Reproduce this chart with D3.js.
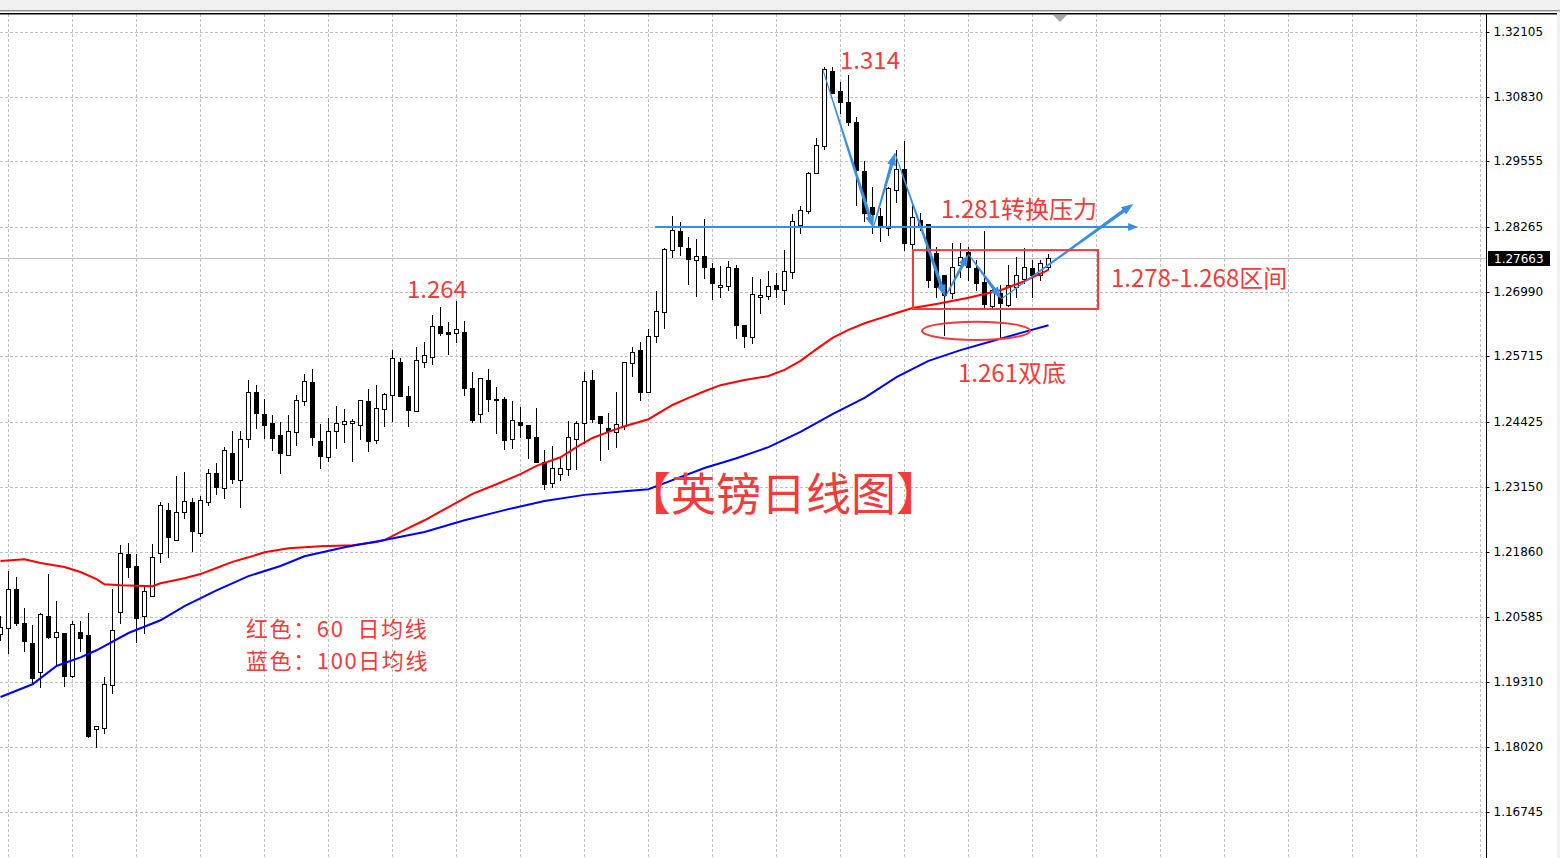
<!DOCTYPE html>
<html><head><meta charset="utf-8">
<script src="https://cdn.jsdelivr.net/npm/d3@7/dist/d3.min.js"></script>
<style>html,body{margin:0;padding:0;background:#fff;overflow:hidden}</style>
</head><body>
<svg id="c" width="1560" height="858"></svg>
<script>
// ---- data (GBP/USD daily) ----
const opens = [1.2025,1.2037,1.2113,1.2046,1.2007,1.1950,1.2060,1.2019,1.2027,1.1942,1.2029,1.2023,1.1838,1.1840,1.1924,1.2068,1.2182,1.2159,1.2060,1.2100,
1.2184,1.2269,1.2210,1.2265,1.2285,1.2224,1.2285,1.2342,1.2312,1.2381,1.2328,1.2409,1.2502,1.2458,1.2440,1.2417,1.2377,1.2423,1.2484,1.2521,
1.2405,1.2373,1.2425,1.2438,1.2440,1.2436,1.2484,1.2407,1.2468,1.2496,1.2561,1.2494,1.2464,1.2561,1.2570,1.2631,1.2620,1.2618,1.2620,1.2509,
1.2458,1.2525,1.2488,1.2488,1.2409,1.2442,1.2436,1.2413,1.2364,1.2322,1.2340,1.2350,1.2409,1.2440,1.2525,1.2454,1.2431,1.2423,1.2434,1.2559,
1.2584,1.2502,1.2612,1.2659,1.2781,1.2819,1.2785,1.2761,1.2769,1.2746,1.2708,1.2710,1.2746,1.2633,1.2610,1.2689,1.2691,1.2712,1.2702,1.2738,
1.2830,1.2858,1.2933,1.2986,1.3134,1.3094,1.3073,1.3033,1.2937,1.2866,1.2848,1.2825,1.2899,1.2941,1.2793,1.2840,1.2832,1.2775,1.2732,1.2696,
1.2752,1.2777,1.2746,1.2718,1.2671,1.2696,1.2673,1.2708,1.2724,1.2746,1.2732,1.2748];
const highs = [1.2060,1.2149,1.2137,1.2076,1.2042,1.2066,1.2143,1.2090,1.2027,1.2050,1.2050,1.2066,1.1844,1.1940,1.2113,1.2200,1.2204,1.2182,1.2121,1.2202,
1.2285,1.2283,1.2336,1.2344,1.2293,1.2297,1.2350,1.2362,1.2393,1.2425,1.2425,1.2525,1.2515,1.2488,1.2456,1.2442,1.2456,1.2496,1.2537,1.2547,
1.2438,1.2450,1.2474,1.2468,1.2448,1.2486,1.2507,1.2515,1.2500,1.2584,1.2568,1.2513,1.2590,1.2600,1.2653,1.2669,1.2639,1.2681,1.2641,1.2541,
1.2529,1.2547,1.2511,1.2492,1.2484,1.2472,1.2436,1.2470,1.2387,1.2395,1.2371,1.2444,1.2444,1.2541,1.2545,1.2454,1.2460,1.2502,1.2561,1.2590,
1.2600,1.2626,1.2700,1.2785,1.2848,1.2836,1.2807,1.2803,1.2842,1.2756,1.2750,1.2760,1.2752,1.2633,1.2728,1.2724,1.2740,1.2736,1.2781,1.2852,
1.2868,1.2935,1.3002,1.3142,1.3142,1.3112,1.3126,1.3043,1.2957,1.2905,1.2864,1.2905,1.2978,1.2996,1.2876,1.2854,1.2832,1.2787,1.2732,1.2795,
1.2795,1.2787,1.2761,1.2819,1.2708,1.2712,1.2752,1.2767,1.2785,1.2761,1.2761,1.2773];
const lows = [1.2013,1.1987,1.2042,1.1991,1.1928,1.1920,1.2017,1.1964,1.1922,1.1940,1.1991,1.1822,1.1802,1.1830,1.1909,1.2046,1.2137,1.2009,1.2027,1.2100,
1.2167,1.2176,1.2210,1.2253,1.2188,1.2218,1.2279,1.2301,1.2293,1.2322,1.2275,1.2393,1.2431,1.2411,1.2387,1.2342,1.2377,1.2397,1.2476,1.2397,
1.2352,1.2366,1.2391,1.2403,1.2366,1.2409,1.2385,1.2401,1.2434,1.2444,1.2494,1.2434,1.2464,1.2551,1.2557,1.2614,1.2576,1.2600,1.2496,1.2442,
1.2442,1.2464,1.2421,1.2389,1.2391,1.2413,1.2371,1.2364,1.2310,1.2314,1.2328,1.2338,1.2350,1.2401,1.2442,1.2368,1.2389,1.2393,1.2429,1.2533,
1.2486,1.2502,1.2600,1.2628,1.2767,1.2771,1.2714,1.2691,1.2726,1.2685,1.2689,1.2702,1.2608,1.2590,1.2598,1.2657,1.2685,1.2689,1.2675,1.2726,
1.2815,1.2854,1.2933,1.2980,1.3091,1.3051,1.3027,1.2870,1.2838,1.2815,1.2799,1.2811,1.2876,1.2781,1.2773,1.2821,1.2708,1.2689,1.2614,1.2687,
1.2728,1.2722,1.2702,1.2669,1.2667,1.2610,1.2671,1.2689,1.2716,1.2689,1.2722,1.2744];
const closes = [1.2039,1.2113,1.2046,1.2011,1.1938,1.2064,1.2019,1.2029,1.1942,1.2044,1.2017,1.1824,1.1844,1.1926,1.2033,1.2184,1.2157,1.2056,1.2109,1.2176,
1.2279,1.2216,1.2265,1.2287,1.2228,1.2289,1.2342,1.2314,1.2387,1.2330,1.2409,1.2502,1.2460,1.2436,1.2411,1.2381,1.2425,1.2486,1.2523,1.2413,
1.2375,1.2425,1.2440,1.2444,1.2444,1.2486,1.2405,1.2470,1.2498,1.2568,1.2494,1.2466,1.2565,1.2574,1.2631,1.2618,1.2616,1.2626,1.2509,1.2446,
1.2529,1.2488,1.2486,1.2407,1.2446,1.2436,1.2411,1.2364,1.2320,1.2352,1.2352,1.2413,1.2440,1.2523,1.2448,1.2440,1.2425,1.2438,1.2561,1.2580,
1.2502,1.2612,1.2661,1.2783,1.2821,1.2789,1.2763,1.2769,1.2748,1.2716,1.2712,1.2748,1.2633,1.2612,1.2695,1.2693,1.2710,1.2704,1.2740,1.2838,
1.2860,1.2933,1.2988,1.3138,1.3091,1.3073,1.3033,1.2939,1.2854,1.2852,1.2827,1.2903,1.2941,1.2795,1.2846,1.2830,1.2722,1.2708,1.2693,1.2748,
1.2767,1.2748,1.2716,1.2675,1.2702,1.2677,1.2712,1.2732,1.2748,1.2732,1.2756,1.27663];

// 60-day MA (red) and 100-day MA (blue), sampled at bar indices
const ma60Idx = [0,3,5,8,10,12,13,15,19,20,23,25,27,29,31,33,36,40,44,47,48,50,53,56,59,62,65,67,70,72,74,76,78,81,84,86,88,90,93,96,98,100,102,104,106,108,110,112,114,117,121,125,128,131];
const ma60Val = [1.2169,1.2172,1.2165,1.2157,1.2147,1.2133,1.2123,1.2121,1.2119,1.2125,1.2135,1.2143,1.2155,1.2167,1.2176,1.2186,1.2194,1.2198,1.2200,1.2206,1.2210,1.2226,1.2249,1.2275,1.2301,1.2320,1.2340,1.2356,1.2373,1.2393,1.2411,1.2423,1.2434,1.2448,1.2476,1.2490,1.2503,1.2515,1.2525,1.2533,1.2545,1.2563,1.2586,1.2608,1.2624,1.2637,1.2647,1.2657,1.2667,1.2675,1.2687,1.2702,1.2720,1.2742];
const ma100Idx = [0,4,7,10,12,16,20,23,27,31,35,38,43,48,53,58,63,68,73,78,81,84,88,92,96,100,104,108,112,116,120,124,128,131];
const ma100Val = [1.1901,1.1926,1.1962,1.1979,1.1993,1.2027,1.2052,1.2080,1.2111,1.2139,1.2159,1.2178,1.2196,1.2210,1.2226,1.2249,1.2269,1.2287,1.2299,1.2306,1.2310,1.2328,1.2352,1.2371,1.2393,1.2423,1.2458,1.2490,1.2531,1.2563,1.2584,1.2602,1.2620,1.2633];

const priceTicks = [1.32105,1.30830,1.29555,1.28265,1.26990,1.25715,1.24425,1.23150,1.21860,1.20585,1.19310,1.18020,1.16745];
const currentPrice = 1.27663;

// annotation anchors: [bar index, price]
const zigzag = [[102.8,1.3136],[109.1,1.2825],[111.8,1.2972],[118.1,1.2689],[121.0,1.2773],[125.1,1.2685],[141.6,1.2872]];
const resistLine = [[81.8,1.28265],[142.2,1.28265]];
const rangeBox = [[114.06,1.2781],[137.19,1.2665]];
const bottomEllipse = {c:[121.94,1.2622], rx:6.75, ry:0.0018};
const labels = [
  {t:"1.314", p:[104.94,1.3138], s:24, ls:0},
  {t:"1.264", p:[50.81,1.2687], s:24, ls:0},
  {t:"1.281转换压力", p:[117.56,1.2844], s:24, ls:0},
  {t:"1.278-1.268区间", p:[138.81,1.2708], s:24, ls:0},
  {t:"1.261双底", p:[119.69,1.2521], s:24, ls:0},
  {t:"【英镑日线图】", p:[78.19,1.2268], s:45, ls:0},
  {t:"红色：60  日均线", p:[30.69,1.2019], s:22, ls:1.6},
  {t:"蓝色：100日均线", p:[30.69,1.1957], s:22, ls:1.6}
];

// ---- layout ----
const W = 1560, H = 858, plotTop = 14, plotRight = 1486;
const svg = d3.select("#c");
const x = d3.scaleLinear().domain([0,131]).range([0.5,1048.5]);
const y = d3.scaleLinear().domain([1.16745,1.32105]).range([812,32]);
const snap = v => Math.round(v) + 0.5;

// chrome
svg.append("rect").attr("x",0).attr("y",0).attr("width",W).attr("height",H).attr("fill","#fff");
svg.append("rect").attr("x",0).attr("y",0).attr("width",W).attr("height",10).attr("fill","#f0f0f0");
svg.append("rect").attr("x",0).attr("y",10).attr("width",W).attr("height",1).attr("fill","#8c8c8c");
svg.append("rect").attr("x",0).attr("y",11).attr("width",W).attr("height",1).attr("fill","#cfcfcf");
svg.append("rect").attr("x",1557).attr("y",12).attr("width",3).attr("height",H).attr("fill","#f0f0f0");

const grid = svg.append("g").attr("stroke","#c0c0c0").attr("stroke-width",1).attr("stroke-dasharray","3,2");
priceTicks.forEach(t => {
  grid.append("line").attr("x1",0).attr("x2",plotRight).attr("y1",snap(y(t))).attr("y2",snap(y(t)));
});
d3.range(1, 190, 8).forEach(i => {
  const xx = Math.floor(x(i)) + 0.5;
  if (xx < plotRight) grid.append("line").attr("x1",xx).attr("x2",xx).attr("y1",plotTop).attr("y2",H);
});

// current price line
svg.append("line").attr("x1",0).attr("x2",plotRight).attr("y1",snap(y(currentPrice))).attr("y2",snap(y(currentPrice)))
  .attr("stroke","#c0c0c0").attr("stroke-width",1);

// candles
const bars = opens.map((o,i)=>({i,o,h:highs[i],l:lows[i],c:closes[i]}));
const cg = svg.append("g");
bars.forEach(b => {
  const cx = Math.floor(x(b.i)) + 0.5;
  cg.append("line").attr("x1",cx).attr("x2",cx).attr("y1",Math.round(y(b.h))).attr("y2",Math.round(y(b.l))+1)
    .attr("stroke","#000").attr("stroke-width",1);
  const top = Math.round(y(Math.max(b.o,b.c))), bot = Math.round(y(Math.min(b.o,b.c)));
  const bull = b.c >= b.o;
  if (bot - top < 1) {
    cg.append("line").attr("x1",cx-2.5).attr("x2",cx+2.5).attr("y1",top+0.5).attr("y2",top+0.5).attr("stroke","#000");
  } else {
    cg.append("rect").attr("x",cx-2).attr("y",top+0.5).attr("width",4).attr("height",bot-top)
      .attr("fill",bull?"#fff":"#000").attr("stroke","#000").attr("stroke-width",1);
  }
});

// moving averages
const line = d3.line().x(d=>x(d[0])).y(d=>y(d[1]));
svg.append("path").datum(ma60Idx.map((d,k)=>[d,ma60Val[k]])).attr("d",line)
  .attr("fill","none").attr("stroke","#ff0000").attr("stroke-width",2);
svg.append("path").datum(ma100Idx.map((d,k)=>[d,ma100Val[k]])).attr("d",line)
  .attr("fill","none").attr("stroke","#0000ff").attr("stroke-width",2);

// plot frame
svg.append("rect").attr("x",0).attr("y",13).attr("width",1557).attr("height",1.5).attr("fill","#000");
svg.append("line").attr("x1",plotRight+0.5).attr("x2",plotRight+0.5).attr("y1",plotTop).attr("y2",H).attr("stroke","#000");
svg.append("path").attr("d","M1053,15 L1067,15 L1060,22 Z").attr("fill","#a8a8a8");

// axis
const axis = d3.axisRight(y).tickValues(priceTicks).tickFormat(d3.format(".5f")).tickSize(3).tickPadding(4);
const ag = svg.append("g").attr("transform",`translate(${plotRight+0.5},0.5)`).call(axis);
ag.select(".domain").remove();
ag.selectAll("text").attr("font-family","DejaVu Sans, Tahoma, sans-serif").attr("font-size",12).attr("fill","#000");
ag.selectAll(".tick").attr("transform", d => `translate(0,${Math.round(y(d))})`);
// current price tag
const cy = Math.round(y(currentPrice));
svg.append("rect").attr("x",1488).attr("y",cy-7).attr("width",62).attr("height",15).attr("fill","#000");
svg.append("text").attr("x",1494).attr("y",cy+4.5).attr("fill","#fff").attr("font-family","DejaVu Sans, Tahoma, sans-serif")
  .attr("font-size",12).text(d3.format(".5f")(currentPrice));

// ---- annotations ----
const RED = "#f23b3b", BLUE = "#3a8ee0";
const ann = svg.append("g");
function taper(a, b, w0, w1, hl, hw) {
  const ax=x(a[0]), ay=y(a[1]), bx=x(b[0]), by=y(b[1]);
  const dx=bx-ax, dy=by-ay, L=Math.hypot(dx,dy), ux=dx/L, uy=dy/L, nx=-uy, ny=ux;
  const sx=bx-ux*hl*0.7, sy=by-uy*hl*0.7, hx=bx-ux*hl, hy=by-uy*hl;
  ann.append("path").attr("fill",BLUE).attr("d",
    `M${ax+nx*w0},${ay+ny*w0} L${sx+nx*w1},${sy+ny*w1} L${sx-nx*w1},${sy-ny*w1} L${ax-nx*w0},${ay-ny*w0} Z`);
  ann.append("path").attr("fill",BLUE).attr("d",
    `M${bx},${by} L${hx+nx*hw},${hy+ny*hw} L${hx-nx*hw},${hy-ny*hw} Z`);
}
taper(resistLine[0], resistLine[1], 1, 1, 10, 4);
for (let k=0;k<zigzag.length-1;k++) taper(zigzag[k], zigzag[k+1], 0.5, 1.8, 12, 4.5);

ann.append("rect").attr("x",x(rangeBox[0][0])).attr("y",y(rangeBox[0][1]))
  .attr("width",x(rangeBox[1][0])-x(rangeBox[0][0])).attr("height",y(rangeBox[1][1])-y(rangeBox[0][1]))
  .attr("fill","none").attr("stroke",RED).attr("stroke-width",2);
ann.append("ellipse").attr("cx",x(bottomEllipse.c[0])).attr("cy",y(bottomEllipse.c[1]))
  .attr("rx",x(bottomEllipse.rx)-x(0)).attr("ry",y(0)-y(bottomEllipse.ry))
  .attr("fill","none").attr("stroke",RED).attr("stroke-width",2);

labels.forEach(l => {
  ann.append("text").attr("x",x(l.p[0])).attr("y",y(l.p[1])).attr("fill",RED)
    .attr("font-family","'Noto Sans CJK SC', sans-serif").attr("font-size",l.s)
    .attr("letter-spacing",l.ls).attr("xml:space","preserve")
    .style("white-space","pre").text(l.t);
});
</script>
</body></html>
